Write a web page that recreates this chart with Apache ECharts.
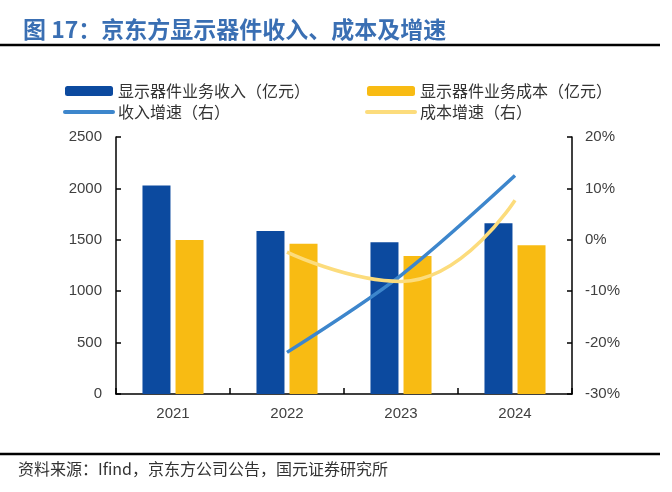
<!DOCTYPE html>
<html>
<head>
<meta charset="utf-8">
<script src="https://cdn.jsdelivr.net/npm/echarts@6/dist/echarts.min.js"></script>
<style>html,body{margin:0;padding:0;background:#fff;}#c{width:672px;height:492px;}</style>
</head>
<body>
<div id="c"></div>
<script>
const categories = ['2021', '2022', '2023', '2024'];
const revenue = [2029, 1585, 1475, 1660];
const cost = [1497, 1461, 1342, 1446];
const revenueGrowth = [null, -21.9, -6.9, 12.5];
const costGrowth = [null, -2.4, -8.1, 7.7];
const leftTicks = { min: 0, max: 2500, interval: 500 };
const rightTicks = { min: -30, max: 20, interval: 10 };

const names = ['显示器件业务收入（亿元）', '显示器件业务成本（亿元）', '收入增速（右）', '成本增速（右）'];
const cjk = '"Noto Sans CJK SC", sans-serif';
const num = '"Liberation Sans", Arial, sans-serif';

const chart = echarts.init(document.getElementById('c'), null, { renderer: 'canvas' });
const legendText = { fontFamily: cjk, fontSize: 16, color: '#333' };
chart.setOption({
  animation: false,
  backgroundColor: '#fff',
  title: {
    text: '图 17：京东方显示器件收入、成本及增速',
    left: 18, top: 13,
    textStyle: { fontFamily: cjk, fontSize: 23, fontWeight: 'bold', color: '#3a6fb3' }
  },
  graphic: [
    { type: 'line', shape: { x1: 0, y1: 45, x2: 660, y2: 45 }, style: { stroke: '#000', lineWidth: 2.5 } },
    { type: 'line', shape: { x1: 0, y1: 454, x2: 660, y2: 454 }, style: { stroke: '#000', lineWidth: 2.5 } },
    { type: 'text', left: 18, top: 461, style: { text: '资料来源：Ifind，京东方公司公告，国元证券研究所', font: '16px "Noto Sans CJK SC", sans-serif', fill: '#333' } }
  ],
  legend: [
    {
      left: 58, top: 78, orient: 'vertical', itemGap: 5, itemWidth: 48, itemHeight: 10,
      textStyle: legendText,
      data: [{ name: names[0] }, { name: names[2], itemStyle: { opacity: 0 }, lineStyle: { width: 4, cap: 'round' } }]
    },
    {
      left: 360, top: 78, orient: 'vertical', itemGap: 5, itemWidth: 48, itemHeight: 10,
      textStyle: legendText,
      data: [{ name: names[1] }, { name: names[3], itemStyle: { opacity: 0 }, lineStyle: { width: 4, cap: 'round' } }]
    }
  ],
  grid: { left: 116, right: 100, top: 137, bottom: 98 },
  xAxis: {
    type: 'category', data: categories, boundaryGap: true,
    axisLine: { lineStyle: { color: '#000', width: 1.5 } },
    axisTick: { show: true, inside: true, length: 6, interval: 0, lineStyle: { color: '#000', width: 1.5 } },
    axisLabel: { fontFamily: num, fontSize: 15, color: '#404040', margin: 12 }
  },
  yAxis: [
    {
      type: 'value', min: leftTicks.min, max: leftTicks.max, interval: leftTicks.interval,
      axisLine: { show: true, lineStyle: { color: '#000', width: 1.5 } },
      axisTick: { show: true, inside: true, length: 5, lineStyle: { color: '#000', width: 1.5 } },
      splitLine: { show: false },
      axisLabel: { fontFamily: num, fontSize: 15, color: '#404040', margin: 14, formatter: v => String(v) }
    },
    {
      type: 'value', min: rightTicks.min, max: rightTicks.max, interval: rightTicks.interval,
      position: 'right',
      axisLine: { show: true, lineStyle: { color: '#000', width: 1.5 } },
      axisTick: { show: true, inside: true, length: 5, lineStyle: { color: '#000', width: 1.5 } },
      splitLine: { show: false },
      axisLabel: { fontFamily: num, fontSize: 15, color: '#404040', margin: 13, formatter: '{value}%' }
    }
  ],
  series: [
    { name: names[0], type: 'bar', data: revenue, barWidth: 28, barGap: '18%', itemStyle: { color: '#0c4a9f' } },
    { name: names[1], type: 'bar', data: cost, barWidth: 28, barGap: '18%', itemStyle: { color: '#f8bb13' } },
    { name: names[2], type: 'line', yAxisIndex: 1, data: revenueGrowth, smooth: 0.3, symbol: 'none',
      lineStyle: { color: '#3d86cc', width: 3.5 }, itemStyle: { color: '#3d86cc' } },
    { name: names[3], type: 'line', yAxisIndex: 1, data: costGrowth, smooth: 0.5, symbol: 'none',
      lineStyle: { color: '#fcdc7c', width: 3.5 }, itemStyle: { color: '#fcdc7c' } }
  ]
});
</script>
</body>
</html>
